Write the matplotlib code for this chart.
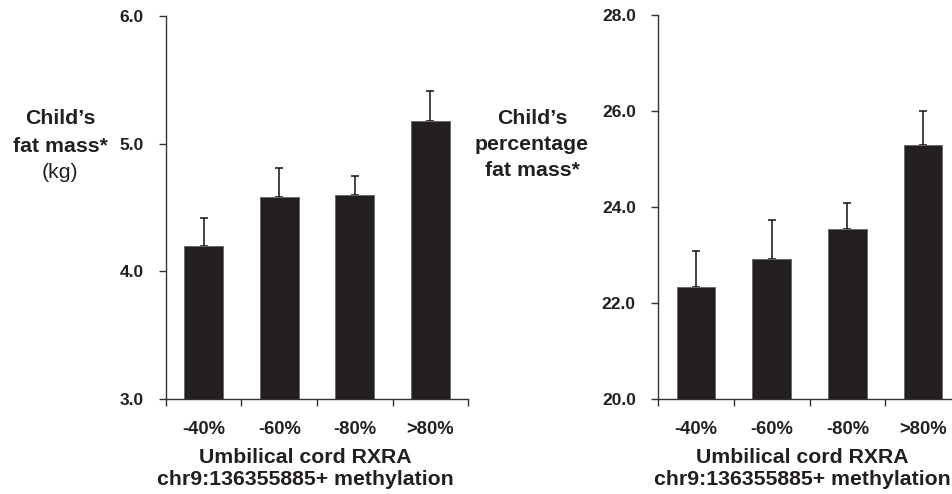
import matplotlib
matplotlib.use("Agg")
import matplotlib.pyplot as plt
import numpy as np

categories = ["-40%", "-60%", "-80%", ">80%"]
fat_mass = [4.20, 4.58, 4.60, 5.18]
fat_mass_err = [0.22, 0.23, 0.15, 0.23]
pct_fat = [22.33, 22.92, 23.54, 25.29]
pct_fat_err = [0.75, 0.81, 0.54, 0.71]
left_ticks = [3.0, 4.0, 5.0, 6.0]
right_ticks = [20.0, 22.0, 24.0, 26.0, 28.0]
xlabel = "Umbilical cord RXRA\nchr9:136355885+ methylation"

plt.rcParams['font.family'] = ['Liberation Sans', 'DejaVu Sans']

W, H = 953, 494
fig = plt.figure(figsize=(W / 100, H / 100), dpi=100)

bar_col = "#231f20"
axis_col = "#333333"
tc = "#231f20"

def make_panel(rect, vals, errs, yticks, label_x):
    ax = fig.add_axes(rect)
    x = np.arange(len(vals)) + 0.5
    ax.bar(x, vals, width=0.51, color=bar_col, edgecolor="#6a6a6a",
           linewidth=0.7, zorder=2)
    ax.errorbar(x, vals, yerr=[np.zeros(len(errs)), errs], fmt="none",
                ecolor="#111111", elinewidth=1.1, capsize=2.6, capthick=1.1,
                zorder=1)
    ax.set_xlim(0, len(vals))
    ax.set_ylim(yticks[0], yticks[-1])
    ax.set_yticks(yticks)
    ax.set_yticklabels([f"{t:.1f}" for t in yticks], fontsize=12.5,
                       fontweight="bold", color=tc)
    ax.set_xticks(np.arange(len(vals) + 1))
    ax.set_xticklabels([])
    ax.set_xticks(x, minor=True)
    ax.set_xticklabels(categories, minor=True, fontsize=13.2,
                       fontweight="bold", color=tc)
    ax.tick_params(axis="x", which="major", direction="out", length=5,
                   width=1, color=axis_col)
    ax.tick_params(axis="x", which="minor", length=0, pad=16)
    ax.tick_params(axis="y", direction="out", length=5, width=1,
                   color=axis_col, pad=11)
    for s in ["top", "right"]:
        ax.spines[s].set_visible(False)
    for s in ["left", "bottom"]:
        ax.spines[s].set_color(axis_col)
        ax.spines[s].set_linewidth(1.0)
    ax.set_xlabel(xlabel, fontsize=15.3, fontweight="bold", color=tc,
                  linespacing=1.2)
    ax.xaxis.set_label_coords(label_x, -0.128)
    ax.xaxis.label.set_verticalalignment("top")
    return ax

ax1 = make_panel([166 / W, 1 - 399 / H, (468 - 166) / W, (399 - 16) / H],
                 fat_mass, fat_mass_err, left_ticks,
                 (305 - 166) / (468 - 166))
ax2 = make_panel([658 / W, 1 - 399 / H, (961 - 658) / W, (399 - 15) / H],
                 pct_fat, pct_fat_err, right_ticks,
                 (802 - 658) / (961 - 658))

fig.text(60 / W, 1 - 118 / H, "Child\u2019s", ha="center", va="center",
         fontsize=15.3, fontweight="bold", color=tc)
fig.text(60 / W, 1 - 146 / H, "fat mass*", ha="center", va="center",
         fontsize=15.3, fontweight="bold", color=tc)
fig.text(60 / W, 1 - 172 / H, "(kg)", ha="center", va="center",
         fontsize=15.3, color=tc)

fig.text(532 / W, 1 - 118 / H, "Child\u2019s", ha="center", va="center",
         fontsize=15.3, fontweight="bold", color=tc)
fig.text(532 / W, 1 - 145 / H, "percentage", ha="center", va="center",
         fontsize=15.3, fontweight="bold", color=tc)
fig.text(532 / W, 1 - 170 / H, "fat mass*", ha="center", va="center",
         fontsize=15.3, fontweight="bold", color=tc)

fig.savefig("out.png", dpi=100, facecolor="white")
